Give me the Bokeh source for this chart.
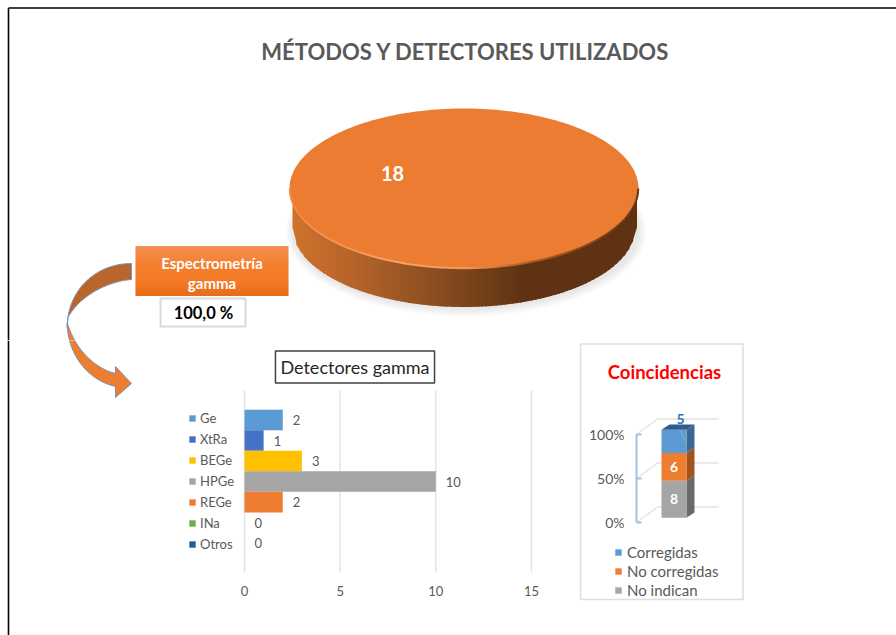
import numpy as np
from bokeh.plotting import figure
from bokeh.layouts import column, row
from bokeh.models import (Range1d, Legend, LegendItem, Label, LinearAxis,
                          FixedTicker, NumeralTickFormatter)
from bokeh.core.properties import value
from bokeh.embed import file_html
from bokeh.resources import INLINE

# ---- data
chart_title = "MÉTODOS  Y DETECTORES  UTILIZADOS"
pie_values = [18]
method_name = ["Espectrometría", "gamma"]
method_share = "100,0 %"

det_title = "Detectores gamma"
det_names = ["Ge", "XtRa", "BEGe", "HPGe", "REGe", "INa", "Otros"]
det_values = [2, 1, 3, 10, 2, 0, 0]
det_colors = ["#5B9BD5", "#4472C4", "#FFC000", "#A5A5A5", "#ED7D31", "#70AD47", "#255E91"]
det_ticks = [0, 5, 10, 15]

coin_title = "Coincidencias"
coin_names = ["No indican", "No corregidas", "Corregidas"]
coin_values = [8, 6, 5]
coin_colors = ["#A5A5A5", "#ED7D31", "#5B9BD5"]
coin_side = ["#6A6A6A", "#A0541E", "#3B6792"]
coin_ticks = [0, 0.5, 1]

FONT = "Lato"
GREY = "#595959"


def bez(p0, p1, p2, p3, n=30):
    t = np.linspace(0, 1, n)[:, None]
    a, b, c, d = map(np.array, (p0, p1, p2, p3))
    return (1-t)**3*a + 3*(1-t)**2*t*b + 3*(1-t)*t**2*c + t**3*d


def lerp_color(stops, v):
    xs = [s[0] for s in stops]
    rgb = [np.interp(v, xs, [int(s[1][i:i+2], 16) for s in stops]) for i in (1, 3, 5)]
    return "#%02x%02x%02x" % tuple(int(round(c)) for c in rgb)


def draw_arrow(f):
    up = np.vstack([bez((131, 263), (95, 263), (66.7, 290), (66.7, 327)),
                    bez((67.5, 317), (78, 297), (105, 281), (131, 279))])
    f.patch(up[:, 0], up[:, 1], fill_color="#B9652B", line_color="#7C93B5", line_width=1)
    top = bez((66.7, 322), (75, 350), (95, 368), (115, 373))
    low = bez((115, 386), (88, 380), (68, 355), (66.7, 325))
    head = np.array([(115, 366), (131, 383), (115, 397)])
    lo = np.vstack([top, head, low])
    f.patch(lo[:, 0], lo[:, 1], fill_color="#ED7D31", line_color="#7C93B5", line_width=1)


def bare(f):
    f.xaxis.visible = False
    f.yaxis.visible = False
    f.xgrid.visible = False
    f.ygrid.visible = False
    f.outline_line_color = None
    f.frame_align = False


# ---- top panel: page pixel coordinates
top = figure(width=896, height=340, x_range=Range1d(0, 896), y_range=Range1d(340, 0),
             toolbar_location=None, output_backend="svg", min_border=0)
bare(top)
top.segment([8, 8], [7.5, 7.5], [896, 8], [7.5, 340], line_color="black", line_width=1.6)
top.text([470.5], [51], text=[chart_title], text_font=value(FONT), text_font_style="bold",
         text_font_size="22px", text_color=GREY, text_align="center", text_baseline="middle")

# pie
cx, cy, rx, ry, depth = 463.5, 188.0, 174.5, 80.0, 39.0
sweep = 2*np.pi*pie_values[0]/sum(pie_values)
ang = np.linspace(0, sweep, 241)
for k in range(6):
    top.ellipse([cx+2], [cy+depth+4], width=2*(rx+6-k*1.5), height=2*(ry+5-k*1.5),
                fill_color="#808080", fill_alpha=0.035, line_color=None)
stops = [(289, "#D0732D"), (360, "#B2622A"), (460, "#7E461C"), (525, "#5E3212"), (640, "#5E3212")]
edges = np.linspace(cx-rx+3, cx+rx-3, 90)
sx, sy, sc = [], [], []
for a, b in zip(edges[:-1], edges[1:]):
    xx = np.array([a, b+1.5])
    yt = cy + ry*np.sqrt(np.clip(1-((xx-cx)/rx)**2, 0, 1))
    yb = cy + depth + (ry-0.5)*np.sqrt(np.clip(1-((xx-cx)/(rx-3))**2, 0, 1))
    sx.append([xx[0], xx[1], xx[1], xx[0]])
    sy.append([yt[0]-2, yt[1]-2, yb[1], yb[0]])
    sc.append(lerp_color(stops, (a+b)/2))
top.patches(sx, sy, fill_color=sc, line_color=None)
top.patch(cx+rx*np.cos(ang), cy+ry*np.sin(ang), fill_color="#EB7C31", line_color=None)
rim = np.linspace(0.0, np.pi, 80)
rimx = cx+(rx-0.3)*np.cos(rim)
rimy = cy+(ry-0.3)*np.sin(rim)
rstops = [(289, "#F08A42"), (400, "#F6A469"), (470, "#F39A5C"), (530, "#A65F28"), (640, "#5E3212")]
top.multi_line([[rimx[i], rimx[i+1]] for i in range(79)], [[rimy[i], rimy[i+1]] for i in range(79)],
               line_color=[lerp_color(rstops, rimx[i]) for i in range(79)], line_width=2)
top.text([392], [173], text=[str(pie_values[0])], text_font=value(FONT), text_font_style="bold",
         text_font_size="20px", text_color="white", text_align="center", text_baseline="middle")

# method box
ys = np.linspace(245.5, 295, 26)
gstops = [(245.5, "#F39055"), (262, "#F57F30"), (280, "#F37A25"), (295, "#E86B16")]
top.quad(left=135, right=288, top=ys[:-1], bottom=ys[1:]+0.4,
         fill_color=[lerp_color(gstops, y) for y in ys[:-1]], line_color=None)
top.text([211.5, 211.5], [262, 282], text=method_name, text_font=value(FONT), text_font_style="bold",
         text_font_size="15px", text_color="white", text_align="center", text_baseline="middle")
top.quad(left=160, right=245, top=298, bottom=326, fill_color="white", line_color="#D9D9D9", line_width=2)
top.text([203], [312], text=[method_share], text_font=value(FONT), text_font_style="bold",
         text_font_size="16.5px", text_color="black", text_align="center", text_baseline="middle")
draw_arrow(top)

# ---- bottom-left strip: rest of the arrow
left = figure(width=150, height=295, x_range=Range1d(0, 150), y_range=Range1d(635, 340),
              toolbar_location=None, output_backend="svg", min_border=0)
bare(left)
left.segment([8], [340], [8], [635], line_color="black", line_width=1.6)
draw_arrow(left)

# ---- detector bars
PX, ROW = 19.13, 20.53
det_rows = list(range(len(det_names)))
bars = figure(width=420, height=295, x_range=Range1d((150-244)/PX, (560-244)/PX),
              y_range=Range1d((572-419.5)/ROW, (340-419.5)/ROW),
              y_axis_location=None, toolbar_location=None, output_backend="svg",
              min_border_left=0, min_border_right=10, min_border_top=0, min_border_bottom=63)
bars.frame_align = False
bars.xgrid.visible = False
bars.ygrid.visible = False
bars.outline_line_color = None
bars.segment(det_ticks, (572-419.5)/ROW, det_ticks, (390-419.5)/ROW, line_color="#E4E4E4", line_width=1.5)
ax = bars.xaxis[0]
ax.ticker = FixedTicker(ticks=det_ticks)
ax.axis_line_color = None
ax.major_tick_line_color = None
ax.minor_tick_line_color = None
ax.major_label_text_font = FONT
ax.major_label_text_font_size = "13px"
ax.major_label_text_color = GREY
ax.major_label_standoff = 7
items = []
for i, n, v, c in zip(det_rows, det_names, det_values, det_colors):
    r = bars.hbar(y=[i], right=[v], left=0, height=1.0, fill_color=c, line_color=None)
    items.append(LegendItem(label=n, renderers=[r]))
leg = Legend(items=items, location=(38, 18), orientation="vertical", padding=0, margin=0,
             spacing=1, label_height=20, glyph_width=8, glyph_height=8, label_standoff=4,
             label_text_font=FONT, label_text_font_size="13px", label_text_color=GREY,
             border_line_color=None, background_fill_alpha=0)
bars.add_layout(leg)
bars.text(x=det_values, y=det_rows, text=[str(v) for v in det_values], x_offset=10,
          text_font=value(FONT), text_font_size="13px", text_color=GREY,
          text_align="left", text_baseline="middle")
bars.add_layout(Label(x=(354.5-244)/PX, y=(366.5-419.5)/ROW, text=det_title, text_font=FONT,
                      text_font_size="18px", text_color="#262626", text_align="center",
                      text_baseline="middle", border_line_color="#404040", border_line_width=1.5,
                      background_fill_color="white", padding=5))

# ---- coincidences, 3D stacked column
K = 88.0  # px per 100 %
def Y(py):
    return (522-py)/K

coin = figure(width=326, height=295, x_range=Range1d(570, 896), y_range=Range1d(Y(635), Y(340)),
              x_axis_location=None, y_axis_location=None,
              toolbar_location=None, output_backend="svg", min_border=0)
coin.frame_align = False
coin.xgrid.visible = False
coin.ygrid.visible = False
coin.outline_line_color = None
ay = LinearAxis(fixed_location=636)
ay.ticker = FixedTicker(ticks=coin_ticks)
ay.bounds = (0, 1)
ay.formatter = NumeralTickFormatter(format="0%")
ay.axis_line_color = "#9DC3E6"
ay.axis_line_width = 2
ay.major_tick_line_color = "#9DC3E6"
ay.major_tick_line_width = 2
ay.major_tick_in = 5
ay.major_tick_out = 0
ay.minor_tick_line_color = None
ay.major_label_standoff = 12
ay.major_label_text_font = FONT
ay.major_label_text_font_size = "14px"
ay.major_label_text_color = GREY
coin.add_layout(ay, "left")

coin.quad(left=580, right=742.5, top=Y(343.5), bottom=Y(599), fill_color="white",
          line_color="#DEDEDE", line_width=1.5)
back_dx, back_dy = 21, 15.5/K
coin.multi_line([[636, 636+back_dx, 718] for _ in coin_ticks],
                [[t, t+back_dy, t+back_dy] for t in coin_ticks],
                line_color="#E4E4E4", line_width=1.5)
frac = np.cumsum([0]+coin_values)/sum(coin_values)
L, R, off, dx, dy = 661, 686, 4.7/K, 8, 5.4/K
rends = []
for i, name in enumerate(coin_names):
    b, t = frac[i]+off, frac[i+1]+off
    coin.patch([R, R+dx, R+dx, R], [b, b+dy, t+dy, t], fill_color=coin_side[i], line_color=None)
    rends.append(coin.quad(left=L, right=R, bottom=[b], top=[t], fill_color=coin_colors[i], line_color=None))
tt = frac[-1]+off
coin.patch([L, L+dx, R+dx, R], [tt, tt+dy, tt+dy, tt], fill_color="#2F5D8A", line_color=None)
coin.segment([679], [Y(429)], [685.7], [Y(441.7)], line_color="#A6A6A6", line_width=1)
mids = (frac[:-1]+frac[1:])/2+off
coin.text([673.5, 673.5], mids[:2], text=[str(v) for v in coin_values[:2]], text_font=value(FONT),
          text_font_style="bold", text_font_size="14px", text_color="white",
          text_align="center", text_baseline="middle")
coin.text([680], [Y(418)], text=[str(coin_values[2])], text_font=value(FONT), text_font_style="bold",
          text_font_size="14px", text_color="#2F6EBA", text_align="center", text_baseline="middle")
coin.add_layout(Label(x=664, y=Y(371), text=coin_title, text_font=FONT, text_font_style="bold",
                      text_font_size="18.5px", text_color="#FF0000", text_align="center",
                      text_baseline="middle"))
citems = [LegendItem(label=n, renderers=[r]) for n, r in zip(coin_names[::-1], rends[::-1])]
cleg = Legend(items=citems, location=(44, 36), padding=0, margin=0, spacing=0, label_height=19,
              glyph_width=8, glyph_height=8, label_standoff=5, label_text_font=FONT,
              label_text_font_size="15px", label_text_color=GREY,
              border_line_color=None, background_fill_alpha=0)
coin.add_layout(cleg)

page = column(top, row(left, bars, coin, spacing=0), spacing=0)
open("out.html", "w").write(file_html(page, INLINE))
